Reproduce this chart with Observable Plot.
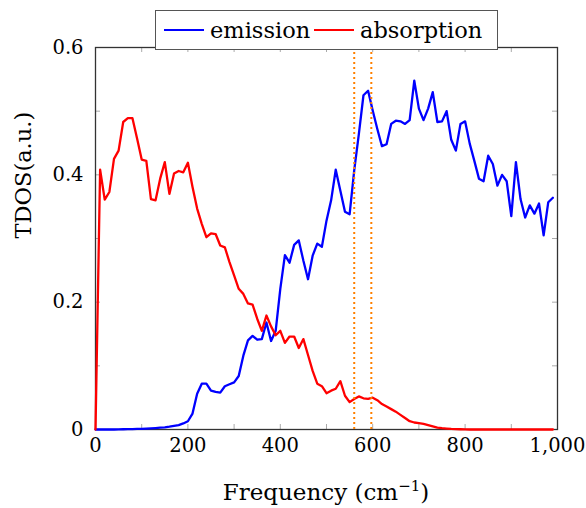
<!DOCTYPE html>
<html>
<head>
<meta charset="utf-8">
<script src="https://cdn.jsdelivr.net/npm/d3@7"></script>
<script src="https://cdn.jsdelivr.net/npm/@observablehq/plot@0.6"></script>
<style>
  html, body { margin: 0; padding: 0; background: white; }
  #wrap { position: relative; width: 586px; height: 508px; font-family: "DejaVu Serif", "Liberation Serif", serif; }
  #legend { position: absolute; left: 155px; top: 10px; width: 341px; height: 38px; border: 1px solid #555; background: white; box-sizing: content-box; }
  #legend .item { position: absolute; top: 0; height: 38px; display: flex; align-items: center; font-size: 22.5px; color: #000; }
  #legend .sw { display: inline-block; width: 40px; height: 2px; margin-right: 6px; }
  #xlabel { position: absolute; left: 95px; width: 462px; top: 477px; text-align: center; font-size: 23px; }
  #xlabel sup { font-size: 15px; }
</style>
</head>
<body>
<div id="wrap">
  <div id="chart"></div>
  <div id="legend"></div>
  <div id="xlabel"></div>
</div>
<script>
// ---- data ----
const frequency = [0,10,20,30,40,50,60,70,80,90,100,110,120,130,140,150,160,170,180,190,
  200,210,220,230,240,250,260,270,280,290,300,310,320,330,340,350,360,370,380,390,
  400,410,420,430,440,450,460,470,480,490,500,510,520,530,540,550,560,570,580,590,
  600,610,620,630,640,650,660,670,680,690,700,710,720,730,740,750,760,770,780,790,
  800,810,820,830,840,850,860,870,880,890,900,910,920,930,940,950,960,970,980,990];

const emission = [0,0,0,0,0,0.0003,0.0004,0.0005,0.0007,0.0009,
  0.001,0.0013,0.0017,0.0022,0.0028,0.0035,0.0045,0.0057,0.007,0.0095,
  0.013,0.025,0.056,0.072,0.072,0.061,0.059,0.058,0.068,0.071,
  0.074,0.084,0.116,0.14,0.147,0.141,0.142,0.168,0.139,0.155,
  0.221,0.274,0.262,0.29,0.297,0.265,0.236,0.273,0.292,0.287,
  0.328,0.36,0.408,0.375,0.342,0.338,0.407,0.464,0.525,0.532,
  0.501,0.472,0.445,0.448,0.48,0.485,0.484,0.48,0.486,0.548,
  0.504,0.486,0.504,0.53,0.483,0.484,0.5,0.455,0.438,0.48,
  0.484,0.449,0.422,0.394,0.39,0.43,0.417,0.383,0.4,0.39,
  0.335,0.42,0.362,0.333,0.352,0.339,0.355,0.305,0.357,0.364];

const absorption = [0,0.408,0.361,0.373,0.425,0.438,0.483,0.489,0.489,0.457,
  0.424,0.422,0.362,0.36,0.394,0.42,0.37,0.402,0.406,0.404,
  0.419,0.381,0.347,0.323,0.302,0.308,0.307,0.289,0.286,0.263,
  0.242,0.221,0.213,0.198,0.196,0.174,0.155,0.179,0.162,0.148,
  0.155,0.136,0.146,0.146,0.128,0.142,0.117,0.092,0.072,0.068,
  0.057,0.061,0.064,0.076,0.053,0.043,0.048,0.052,0.049,0.048,
  0.05,0.046,0.04,0.036,0.032,0.028,0.023,0.018,0.013,0.011,
  0.01,0.009,0.007,0.005,0.003,0.002,0.0015,0.001,0.0007,0.0004,
  0.0002,0,0,0,0,0,0,0,0,0,
  0,0,0,0,0,0,0,0,0,0];

const markerLines = [560, 597];
const xTickLabels = [0, 200, 400, 600, 800, 1000];
const yTickLabels = [0, 0.2, 0.4, 0.6];
const xMinorTicks = [0,100,200,300,400,500,600,700,800,900,1000];
const yMinorTicks = [0,0.1,0.2,0.3,0.4,0.5,0.6];
const seriesNames = ["emission", "absorption"];
const seriesColors = ["#0000ff", "#ff0000"];
const yLabel = "TDOS(a.u.)";

// ---- table ----
const emData = frequency.map((f, i) => ({f, v: emission[i]}));
const abData = frequency.map((f, i) => ({f, v: absorption[i]}));

const W = 586, H = 508, mL = 95, mR = 29, mT = 47, mB = 79;
const fw = W - mL - mR, fh = H - mT - mB, tl = 5;

const chart = Plot.plot({
  width: W, height: H,
  marginLeft: mL, marginRight: mR, marginTop: mT, marginBottom: mB,
  style: {fontFamily: "'DejaVu Serif', 'Liberation Serif', serif", fontSize: "19px", background: "white", color: "black", overflow: "visible"},
  x: {domain: [0, 1000]},
  y: {domain: [0, 0.6]},
  marks: [
    Plot.tickX(xMinorTicks, {x: d => d, stroke: "#aaa", strokeWidth: 1, insetTop: fh - tl}),
    Plot.tickX(xMinorTicks, {x: d => d, stroke: "#aaa", strokeWidth: 1, insetBottom: fh - tl}),
    Plot.tickY(yMinorTicks, {y: d => d, stroke: "#aaa", strokeWidth: 1, insetRight: fw - tl}),
    Plot.tickY(yMinorTicks, {y: d => d, stroke: "#aaa", strokeWidth: 1, insetLeft: fw - tl}),
    Plot.axisX({ticks: xTickLabels, tickSize: 0, tickPadding: 9, tickFormat: d3.format(","), label: null, fontSize: 19.5}),
    Plot.axisY({ticks: yTickLabels, tickSize: 0, tickPadding: 12, tickFormat: d => String(d), label: null, fontSize: 19.5}),
    Plot.frame({stroke: "#333", strokeWidth: 1.3}),
    Plot.line(emData, {x: "f", y: "v", stroke: seriesColors[0], strokeWidth: 2.3}),
    Plot.line(abData, {x: "f", y: "v", stroke: seriesColors[1], strokeWidth: 2.3}),
    Plot.ruleX(markerLines, {x: d => d, stroke: "#ff8000", strokeWidth: 2, strokeDasharray: "2,3"}),
    Plot.text([yLabel], {frameAnchor: "left", dx: -72, rotate: -90, text: d => d, fontSize: 22.5})
  ]
});
document.getElementById("chart").appendChild(chart);

// legend
const lg = document.getElementById("legend");
const positions = [8, 158];
seriesNames.forEach((name, i) => {
  const it = document.createElement("div");
  it.className = "item";
  it.style.left = positions[i] + "px";
  const sw = document.createElement("span");
  sw.className = "sw";
  sw.style.background = seriesColors[i];
  it.appendChild(sw);
  it.appendChild(document.createTextNode(name));
  lg.appendChild(it);
});

// x label
const xl = document.getElementById("xlabel");
xl.innerHTML = "Frequency (cm<sup>\u22121</sup>)";
</script>
</body>
</html>
